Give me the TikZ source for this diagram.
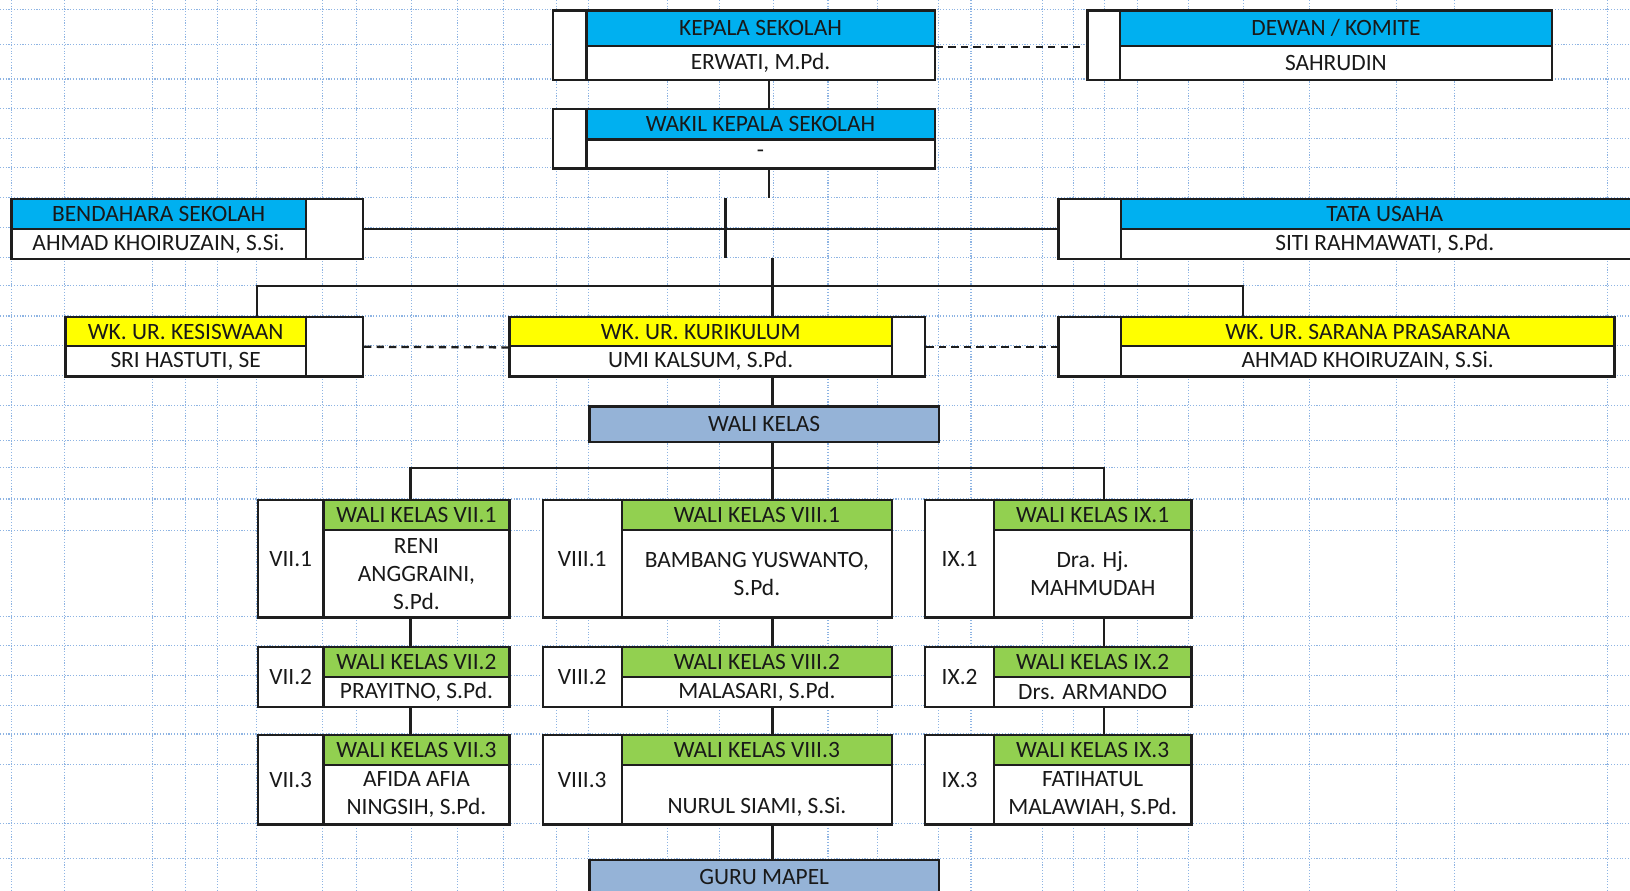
\documentclass[tikz,border=0pt]{standalone}
\usepackage{fontspec}
\setmainfont{Carlito}
\usepackage{xcolor}
\usetikzlibrary{positioning,calc}

\definecolor{headcyan}{RGB}{0,176,240}
\definecolor{headyel}{RGB}{255,255,0}
\definecolor{headgrn}{RGB}{146,208,80}
\definecolor{headsteel}{RGB}{149,179,215}
\definecolor{gridblue}{RGB}{142,180,227}
\definecolor{edge}{RGB}{30,30,30}

\begin{document}
\begin{tikzpicture}[x=1pt, y=-1pt, font=\fontsize{22.5}{27}\selectfont,
  cell/.style={draw=edge, line width=2.2pt, fill=white, anchor=north west, inner sep=0pt, align=center, text=black!90},
  hcyan/.style={cell, fill=headcyan},
  hyel/.style={cell, fill=headyel},
  hgrn/.style={cell, fill=headgrn},
  hsteel/.style={cell, fill=headsteel},
  conn/.style={draw=edge, line width=2.2pt},
  conndash/.style={conn, dash pattern=on 7pt off 5pt},
  gridln/.style={draw=gridblue, line width=1.1pt, dash pattern=on 1.1pt off 1.6pt}]
  \useasboundingbox (0,0) rectangle (1568,857);
  \clip (0,0) rectangle (1568,857);
  % sheet grid
  \foreach \gy in {9,43,76,104,133,161,190,219,248,275,304,332,361,390,424,450,480,510,593,621,650,679,706,735,792,826}
    \draw[gridln] (0,\gy) -- (1568,\gy);
  \foreach \gx in {11,62,146.5,178.5,209,246.5,310.5,343,395.5,440,484,535.5,566.5,642,692,744,796.5,844,902.5,934,1002.5,1032.5,1062.5,1094.5,1143,1196.5,1260,1343,1399.5,1546}
    \draw[gridln] (\gx,0) -- (\gx,857);

  % kepala, komite, wakil
  \node[cell, minimum width=32, minimum height=67] (kpside) at (531,9) {};
  \node[hcyan, minimum width=335, minimum height=34] (kphead) at (563,9) {KEPALA SEKOLAH};
  \node[cell, minimum width=335, minimum height=33] (kpname) at (563,43) {ERWATI, M.Pd.};
  \node[cell, minimum width=31, minimum height=67] (dwside) at (1045,9) {};
  \node[hcyan, minimum width=416, minimum height=34] (dwhead) at (1076,9) {DEWAN / KOMITE};
  \node[cell, minimum width=416, minimum height=33] (dwname) at (1076,43) {SAHRUDIN};
  \node[cell, minimum width=32, minimum height=57] (wkside) at (531,104) {};
  \node[hcyan, minimum width=335, minimum height=29] (wkhead) at (563,104) {WAKIL KEPALA SEKOLAH};
  \node[cell, minimum width=335, minimum height=28] (wkname) at (563,133) {\raisebox{-3pt}{-}};

  % bendahara, tata usaha
  \node[hcyan, minimum width=283, minimum height=29] (bdhead) at (10,190) {BENDAHARA SEKOLAH};
  \node[cell, minimum width=283, minimum height=29] (bdname) at (10,219) {AHMAD KHOIRUZAIN, S.Si.};
  \node[cell, minimum width=55, minimum height=58] (bdside) at (293,190) {};
  \node[cell, minimum width=60, minimum height=58] (tuside) at (1017,190) {};
  \node[hcyan, minimum width=508, minimum height=29] (tuhead) at (1077,190) {TATA USAHA};
  \node[cell, minimum width=508, minimum height=29] (tuname) at (1077,219) {SITI RAHMAWATI, S.Pd.};

  % wakil urusan
  \node[hyel, minimum width=231, minimum height=28] (kshead) at (62,304) {WK. UR. KESISWAAN};
  \node[cell, minimum width=231, minimum height=29] (ksname) at (62,332) {SRI HASTUTI, SE};
  \node[cell, minimum width=55, minimum height=57] (ksside) at (293,304) {};
  \node[hyel, minimum width=368, minimum height=28] (kuhead) at (489,304) {WK. UR. KURIKULUM};
  \node[cell, minimum width=368, minimum height=29] (kuname) at (489,332) {UMI KALSUM, S.Pd.};
  \node[cell, minimum width=32, minimum height=57] (kuside) at (857,304) {};
  \node[cell, minimum width=60, minimum height=57] (spside) at (1017,304) {};
  \node[hyel, minimum width=475, minimum height=28] (sphead) at (1077,304) {WK. UR. SARANA PRASARANA};
  \node[cell, minimum width=475, minimum height=29] (spname) at (1077,332) {AHMAD KHOIRUZAIN, S.Si.};

  \node[hsteel, minimum width=336, minimum height=34] (wali) at (566,390) {WALI KELAS};
  \node[hsteel, minimum width=336, minimum height=34] (guru) at (566,826) {GURU MAPEL};

  % kelas VII
  \node[cell, minimum width=63, minimum height=113] (s71) at (247,480) {VII.1};
  \node[hgrn, minimum width=179, minimum height=29] (h71) at (310,480) {WALI KELAS VII.1};
  \node[cell, minimum width=179, minimum height=84] (n71) at (310,509) {RENI\\ANGGRAINI,\\S.Pd.};
  \node[cell, minimum width=63, minimum height=58] (s72) at (247,621) {VII.2};
  \node[hgrn, minimum width=179, minimum height=29] (h72) at (310,621) {WALI KELAS VII.2};
  \node[cell, minimum width=179, minimum height=29] (n72) at (310,650) {PRAYITNO, S.Pd.};
  \node[cell, minimum width=63, minimum height=86] (s73) at (247,706) {VII.3};
  \node[hgrn, minimum width=179, minimum height=29] (h73) at (310,706) {WALI KELAS VII.3};
  \node[cell, minimum width=179, minimum height=57] (n73) at (310,735) {AFIDA AFIA\\NINGSIH, S.Pd.};
  % kelas VIII
  \node[cell, minimum width=76, minimum height=113] (s81) at (521,480) {VIII.1};
  \node[hgrn, minimum width=260, minimum height=29] (h81) at (597,480) {WALI KELAS VIII.1};
  \node[cell, minimum width=260, minimum height=84] (n81) at (597,509) {BAMBANG YUSWANTO,\\S.Pd.};
  \node[cell, minimum width=76, minimum height=58] (s82) at (521,621) {VIII.2};
  \node[hgrn, minimum width=260, minimum height=29] (h82) at (597,621) {WALI KELAS VIII.2};
  \node[cell, minimum width=260, minimum height=29] (n82) at (597,650) {MALASARI, S.Pd.};
  \node[cell, minimum width=76, minimum height=86] (s83) at (521,706) {VIII.3};
  \node[hgrn, minimum width=260, minimum height=29] (h83) at (597,706) {WALI KELAS VIII.3};
  \node[cell, minimum width=260, minimum height=57] (n83) at (597,735) {\mbox{}\\[12pt]NURUL SIAMI, S.Si.};
  % kelas IX
  \node[cell, minimum width=66, minimum height=113] (s91) at (889,480) {IX.1};
  \node[hgrn, minimum width=190, minimum height=29] (h91) at (955,480) {WALI KELAS IX.1};
  \node[cell, minimum width=190, minimum height=84] (n91) at (955,509) {Dra. Hj.\\MAHMUDAH};
  \node[cell, minimum width=66, minimum height=58] (s92) at (889,621) {IX.2};
  \node[hgrn, minimum width=190, minimum height=29] (h92) at (955,621) {WALI KELAS IX.2};
  \node[cell, minimum width=190, minimum height=29] (n92) at (955,650) {Drs. ARMANDO};
  \node[cell, minimum width=66, minimum height=86] (s93) at (889,706) {IX.3};
  \node[hgrn, minimum width=190, minimum height=29] (h93) at (955,706) {WALI KELAS IX.3};
  \node[cell, minimum width=190, minimum height=57] (n93) at (955,735) {FATIHATUL\\MALAWIAH, S.Pd.};

  % connectors
  \coordinate (top1) at (740,190);
  \coordinate (stubT) at (698,190); \coordinate (stubB) at (698,248);
  \coordinate (bus1t) at (743,248); \coordinate (bus1) at (743,275);
  \coordinate (bus2) at (743,450);
  \coordinate (xks) at (247,0); \coordinate (xsp) at (1196,0);
  \coordinate (x7) at (395,0); \coordinate (x8) at (743,0); \coordinate (x9) at (1062,0);
  \draw[conn] (kpname.south -| top1) -- (wkhead.north -| top1);
  \draw[conn] (wkname.south -| top1) -- (top1);
  \draw[conn] (bdside.east) -- (tuside.west);
  \draw[conn] (stubT) -- (stubB);
  \draw[conn] (bus1t) -- (bus1);
  \draw[conn] (kshead.north -| xks) -- (xks |- bus1) -- (xsp |- bus1) -- (sphead.north -| xsp);
  \draw[conn] (kuhead.north -| bus1) -- (bus1);
  \draw[conndash] (kphead.south east) -- (kphead.south east -| dwside.west);
  \draw[conndash] (ksside.east) -- (kuhead.south west);
  \draw[conndash] (kuside.east) -- (spside.west);
  \draw[conn] (kuname.south -| bus2) -- (wali.north -| bus2);
  \draw[conn] (wali.south -| bus2) -- (bus2);
  \draw[conn] (h71.north -| x7) -- (x7 |- bus2) -- (x9 |- bus2) -- (h91.north -| x9);
  \draw[conn] (h81.north -| bus2) -- (bus2);
  \foreach \c in {7,8,9} {
    \draw[conn] (n\c1.south -| x\c) -- (h\c2.north -| x\c);
    \draw[conn] (n\c2.south -| x\c) -- (h\c3.north -| x\c);
  }
  \draw[conn] (n83.south -| x8) -- (guru.north -| x8);
\end{tikzpicture}
\end{document}
